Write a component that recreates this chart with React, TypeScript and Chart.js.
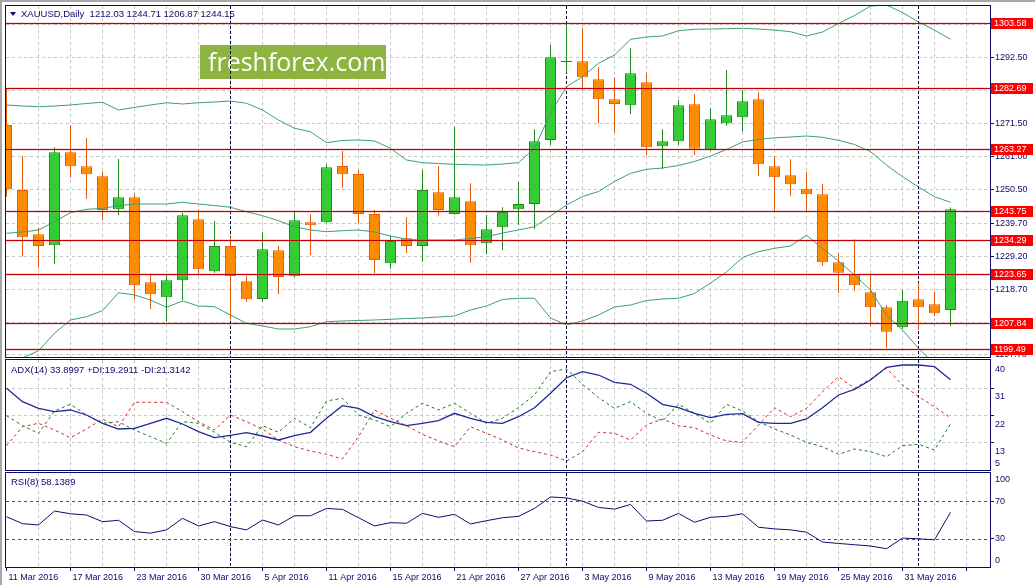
import React, { useEffect, useRef } from "react";
import { Chart, registerables } from "chart.js";

Chart.register(...registerables);

// ---------------- data ----------------
const dates = [
  "11 Mar 2016", "14 Mar 2016", "15 Mar 2016", "16 Mar 2016", "17 Mar 2016", "18 Mar 2016", "21 Mar 2016", "22 Mar 2016",
  "23 Mar 2016", "24 Mar 2016", "28 Mar 2016", "29 Mar 2016", "30 Mar 2016", "31 Mar 2016", "1 Apr 2016", "4 Apr 2016",
  "5 Apr 2016", "6 Apr 2016", "7 Apr 2016", "8 Apr 2016", "11 Apr 2016", "12 Apr 2016", "13 Apr 2016", "14 Apr 2016",
  "15 Apr 2016", "18 Apr 2016", "19 Apr 2016", "20 Apr 2016", "21 Apr 2016", "22 Apr 2016", "25 Apr 2016", "26 Apr 2016",
  "27 Apr 2016", "28 Apr 2016", "29 Apr 2016", "2 May 2016", "3 May 2016", "4 May 2016", "5 May 2016", "6 May 2016",
  "9 May 2016", "10 May 2016", "11 May 2016", "12 May 2016", "13 May 2016", "16 May 2016", "17 May 2016", "18 May 2016",
  "19 May 2016", "20 May 2016", "23 May 2016", "24 May 2016", "25 May 2016", "26 May 2016", "27 May 2016", "30 May 2016",
  "31 May 2016", "1 Jun 2016", "2 Jun 2016", "3 Jun 2016",
];

const open = [
  1271.04, 1250.31, 1236.19, 1232.68, 1262.34, 1257.87, 1254.68, 1244.16, 1247.98, 1220.88,
  1216.10, 1221.52, 1240.97, 1224.39, 1232.46, 1221.20, 1215.55, 1231.08, 1222.79, 1240.01,
  1240.01, 1257.97, 1255.41, 1242.66, 1226.94, 1234.91, 1232.46, 1249.58, 1242.66, 1246.71,
  1233.32, 1238.42, 1244.16, 1245.85, 1266.26, 1291.15, 1291.35, 1285.61, 1279.23, 1277.32,
  1284.66, 1264.25, 1265.84, 1277.64, 1263.29, 1271.58, 1273.50, 1279.23, 1257.87, 1255.00,
  1250.73, 1248.94, 1227.26, 1223.53, 1217.69, 1212.91, 1206.53, 1215.46, 1213.86, 1212.03,
];
const high = [
  1282.84, 1261.15, 1238.29, 1263.93, 1271.04, 1266.99, 1256.15, 1260.20, 1249.26, 1223.75,
  1223.30, 1243.07, 1244.16, 1240.43, 1235.42, 1222.89, 1236.82, 1232.55, 1243.30, 1242.56,
  1258.51, 1262.75, 1256.69, 1243.94, 1235.64, 1241.61, 1256.69, 1257.97, 1270.50, 1252.45,
  1242.34, 1244.80, 1252.86, 1269.67, 1296.55, 1303.57, 1301.97, 1289.44, 1286.25, 1295.50,
  1287.72, 1269.67, 1279.01, 1280.93, 1276.46, 1288.58, 1282.20, 1281.56, 1261.15, 1260.10,
  1256.05, 1252.23, 1230.13, 1234.59, 1223.75, 1213.64, 1218.42, 1220.75, 1217.79, 1244.71,
];
const low = [
  1248.18, 1229.04, 1225.54, 1226.62, 1254.24, 1247.54, 1240.65, 1242.25, 1215.46, 1212.27,
  1208.32, 1215.24, 1223.11, 1223.94, 1209.08, 1214.69, 1214.69, 1217.05, 1222.50, 1229.49,
  1239.80, 1251.05, 1239.69, 1223.75, 1225.22, 1230.13, 1227.45, 1242.12, 1242.50, 1227.13,
  1229.90, 1231.18, 1239.15, 1237.78, 1264.66, 1287.53, 1282.20, 1271.58, 1268.59, 1274.45,
  1261.38, 1256.91, 1264.66, 1261.47, 1262.85, 1270.82, 1268.90, 1254.87, 1243.71, 1248.50,
  1243.20, 1226.17, 1217.56, 1218.20, 1206.95, 1200.03, 1205.99, 1205.67, 1210.13, 1206.87,
];
const close = [
  1250.54, 1235.23, 1232.46, 1262.34, 1257.87, 1255.32, 1243.94, 1247.98, 1219.92, 1217.05,
  1221.52, 1242.25, 1225.03, 1232.46, 1222.89, 1215.46, 1231.40, 1222.57, 1240.65, 1239.06,
  1257.55, 1255.32, 1242.66, 1227.99, 1234.05, 1232.46, 1250.31, 1243.94, 1247.98, 1232.68,
  1237.78, 1243.30, 1245.85, 1265.84, 1292.63, 1291.55, 1286.25, 1279.23, 1277.74, 1287.53,
  1263.93, 1265.84, 1277.32, 1263.48, 1272.86, 1274.13, 1278.60, 1258.51, 1254.36, 1252.13,
  1248.94, 1227.26, 1223.94, 1219.92, 1212.91, 1205.13, 1215.01, 1212.91, 1210.99, 1244.15,
];

const bbUpper = [
  1277.42, 1277.10, 1276.88, 1277.10, 1277.42, 1277.90, 1278.28, 1275.82, 1276.68, 1277.42,
  1278.15, 1277.74, 1278.15, 1278.37, 1278.69, 1277.96, 1275.82, 1272.63, 1269.99, 1268.90,
  1265.40, 1266.10, 1266.26, 1265.94, 1263.61, 1259.88, 1259.02, 1258.76, 1258.51, 1258.38,
  1258.28, 1258.60, 1259.02, 1263.61, 1274.87, 1283.25, 1286.44, 1290.71, 1293.36, 1298.37,
  1299.10, 1299.42, 1301.11, 1301.56, 1301.65, 1301.75, 1301.88, 1301.65, 1301.33, 1300.79,
  1299.42, 1300.70, 1303.41, 1305.96, 1308.99, 1309.31, 1306.91, 1303.88, 1301.33, 1298.37,
];
const bbMiddle = [
  1236.51, 1236.92, 1237.56, 1240.20, 1243.07, 1244.16, 1244.48, 1245.31, 1245.85, 1245.85,
  1245.85, 1246.39, 1245.85, 1245.37, 1244.80, 1243.39, 1242.12, 1240.52, 1238.61, 1237.56,
  1237.02, 1237.34, 1237.56, 1236.92, 1235.64, 1234.59, 1234.37, 1234.37, 1234.37, 1234.85,
  1235.42, 1236.60, 1237.56, 1238.61, 1242.02, 1245.53, 1248.24, 1249.83, 1253.02, 1255.64,
  1256.91, 1257.33, 1258.13, 1259.40, 1261.15, 1263.23, 1265.62, 1266.42, 1266.96, 1267.21,
  1267.53, 1267.12, 1266.16, 1264.82, 1262.53, 1258.28, 1254.55, 1251.27, 1248.18, 1246.39,
];
const bbLower = [
  1195.59, 1196.74, 1199.07, 1204.62, 1208.86, 1209.91, 1211.82, 1217.56, 1216.83, 1215.24,
  1212.91, 1214.92, 1213.32, 1213.10, 1210.45, 1207.81, 1206.95, 1205.99, 1205.99, 1206.72,
  1208.32, 1208.54, 1208.70, 1208.86, 1209.08, 1209.34, 1209.50, 1209.82, 1210.13, 1212.05,
  1213.32, 1215.40, 1215.78, 1215.78, 1209.50, 1207.26, 1208.54, 1210.45, 1213.00, 1213.64,
  1215.08, 1215.55, 1215.78, 1217.31, 1220.66, 1224.16, 1228.79, 1230.64, 1231.72, 1232.46,
  1235.87, 1231.72, 1227.67, 1223.21, 1218.42, 1210.45, 1205.67, 1199.83, 1194.83, 1194.19,
];

const adxMain = [
  31.04, 26.62, 24.44, 23.32, 23.88, 22.23, 19.49, 17.61, 17.84, 19.49,
  21.14, 19.26, 16.72, 14.74, 15.53, 16.39, 15.30, 13.98, 15.39, 16.52,
  21.14, 25.30, 24.44, 21.67, 20.02, 18.70, 19.49, 20.35, 22.79, 21.14,
  19.82, 19.49, 21.67, 24.64, 29.39, 34.54, 36.52, 35.43, 33.02, 32.36,
  29.39, 25.76, 24.64, 22.79, 21.34, 22.46, 22.66, 19.82, 19.49, 19.49,
  20.91, 24.64, 28.83, 30.71, 33.78, 37.97, 38.73, 38.73, 38.17, 33.90,
];
const plusDI = [
  22.00, 18.70, 16.19, 23.55, 25.76, 22.23, 19.49, 20.02, 17.28, 15.07,
  12.89, 20.02, 19.49, 16.52, 13.22, 11.77, 18.70, 16.52, 21.14, 18.04,
  26.85, 27.74, 22.23, 20.58, 18.37, 22.79, 26.09, 23.88, 26.09, 22.79,
  19.49, 21.14, 24.70, 28.83, 36.52, 37.41, 32.36, 27.94, 24.44, 26.62,
  22.79, 20.25, 25.76, 22.79, 19.49, 25.76, 23.55, 20.02, 17.61, 15.63,
  13.22, 11.77, 9.26, 11.01, 10.12, 8.47, 12.10, 12.56, 10.68, 19.29,
];
const minusDI = [
  12.10, 18.37, 19.49, 17.28, 14.74, 17.61, 20.91, 18.37, 26.42, 26.42,
  26.42, 23.32, 20.02, 17.28, 22.23, 20.02, 17.61, 13.98, 11.77, 10.35,
  9.26, 7.71, 15.07, 23.88, 21.14, 18.70, 15.86, 13.65, 11.77, 18.37,
  16.19, 13.98, 11.34, 10.12, 9.03, 7.05, 10.12, 16.52, 16.19, 13.98,
  18.93, 20.91, 18.70, 18.04, 15.63, 13.65, 13.22, 18.93, 24.64, 21.67,
  24.44, 29.92, 34.87, 31.04, 34.11, 37.64, 32.13, 28.27, 24.97, 21.31,
];
const rsi = [
  53.48, 46.11, 44.74, 59.48, 56.63, 55.27, 48.21, 49.69, 37.69, 36.00,
  39.48, 51.79, 43.69, 48.21, 42.95, 39.48, 50.00, 44.74, 54.53, 54.53,
  62.32, 61.27, 52.42, 43.69, 47.16, 46.53, 57.06, 52.85, 56.00, 45.79,
  49.27, 52.42, 53.90, 62.32, 74.53, 73.48, 70.00, 63.37, 61.58, 66.53,
  48.95, 49.69, 57.06, 47.58, 52.85, 53.90, 56.63, 42.32, 40.53, 39.48,
  37.06, 26.53, 25.06, 23.69, 22.32, 19.48, 30.74, 30.00, 28.95, 58.14,
];

const levels = [1303.58, 1282.69, 1263.27, 1243.75, 1234.29, 1223.65, 1207.84, 1199.49];
const priceTicks = [1197.7, 1208.2, 1218.7, 1229.2, 1239.7, 1250.5, 1261.0, 1271.5, 1282.0, 1292.5, 1303.0];
const adxLabels = [40, 31, 22, 13, 5];
const adxGridValues = [31, 22, 13];
const rsiLabels = [100, 70, 30, 0];
const rsiLevels = [70, 30];

const titleText = "XAUUSD,Daily  1212.03 1244.71 1206.87 1244.15";
const adxText = "ADX(14) 33.8997 +DI:19.2911 -DI:21.3142";
const rsiText = "RSI(8) 58.1389";
const watermark = "freshforex.com";

// first bar of each new month -> period separators
const separators = dates
  .map((d, i) => (i > 0 && d.split(" ")[1] !== dates[i - 1].split(" ")[1] ? i : -1))
  .filter((i) => i >= 0);

// ---------------- styles ----------------
const FONT = '"Liberation Sans", Arial, sans-serif';
const NAVY = "#0b0b6b";
const GRID = "#c6c6c6";
const BULL_FILL = "#32cd32";
const BULL_EDGE = "#1f8a1f";
const BEAR_FILL = "#ff8c00";
const BEAR_EDGE = "#e8590c";
const BB = "#3a9f7a";
const X_MIN = -0.03125;
const X_MAX = 61.46875;
const PRICE_MIN = 1197.06;
const PRICE_MAX = 1308.99;
const ADX_MIN = 4.08;
const ADX_MAX = 40.38;

const isBull = (i: number) => close[i] >= open[i];
const pts = (arr: number[]) => arr.map((v, i) => ({ x: i, y: v }));

function xAxis(withLabels: boolean): any {
  return {
    type: "linear",
    min: X_MIN,
    max: X_MAX,
    offset: false,
    position: "bottom",
    afterBuildTicks: (s: any) => {
      const t: any[] = [];
      for (let i = 0; i < dates.length + 2; i += 2) t.push({ value: i });
      s.ticks = t;
    },
    afterFit: (s: any) => {
      s.height = withLabels ? 18 : 0;
      s.paddingLeft = 0;
      s.paddingRight = 0;
    },
    border: { display: false, dash: [3, 3] },
    grid: {
      offset: false,
      drawOnChartArea: true,
      drawTicks: withLabels,
      tickLength: 4,
      lineWidth: 1,
      tickBorderDash: [],
      color: (c: any) => (c.tick && c.tick.value === 0 ? "rgba(0,0,0,0)" : GRID),
      tickColor: (c: any) => (c.tick && c.tick.value % 4 === 0 ? NAVY : "rgba(0,0,0,0)"),
    },
    ticks: {
      display: withLabels,
      autoSkip: false,
      maxRotation: 0,
      minRotation: 0,
      align: "start",
      labelOffset: 2,
      padding: 1,
      color: NAVY,
      font: { family: FONT, size: 9 },
      callback: (v: any) => (v % 4 === 0 && dates[v] ? dates[v] : ""),
    },
  };
}

function sideAxis(min: number, max: number, tickValues: number[], nativeLabels: boolean, gridColor: string): any {
  return {
    type: "linear",
    position: "right",
    min,
    max,
    afterBuildTicks: (s: any) => {
      s.ticks = tickValues.map((v) => ({ value: v }));
    },
    afterFit: (s: any) => {
      s.width = 45;
      s.paddingTop = 0;
      s.paddingBottom = 0;
    },
    border: { display: false, dash: [3, 3] },
    grid: {
      drawTicks: true,
      tickLength: 4,
      lineWidth: 1,
      tickBorderDash: [],
      color: gridColor,
      tickColor: NAVY,
    },
    ticks: {
      display: nativeLabels,
      autoSkip: false,
      padding: 1,
      color: NAVY,
      font: { family: FONT, size: 9 },
      callback: (v: any) => Number(v).toFixed(2),
    },
  };
}

function drawSeparators(chart: any) {
  const { ctx, chartArea: a, scales } = chart;
  ctx.save();
  ctx.strokeStyle = "#000030";
  ctx.lineWidth = 1;
  ctx.setLineDash([3, 2]);
  for (const i of separators) {
    const px = Math.floor(scales.x.getPixelForValue(i)) + 0.5;
    ctx.beginPath();
    ctx.moveTo(px, a.top);
    ctx.lineTo(px, a.bottom);
    ctx.stroke();
  }
  ctx.restore();
}

function drawFrame(chart: any) {
  const { ctx, chartArea: a } = chart;
  ctx.save();
  ctx.strokeStyle = NAVY;
  ctx.lineWidth = 1;
  ctx.strokeRect(Math.floor(a.left) - 0.5, Math.floor(a.top) - 0.5, Math.round(a.right - a.left) + 1, Math.round(a.bottom - a.top) + 1);
  ctx.restore();
}

function drawSideLabels(chart: any, values: number[], offset: number) {
  const { ctx, chartArea: a, scales } = chart;
  ctx.save();
  ctx.font = `9px ${FONT}`;
  ctx.fillStyle = NAVY;
  ctx.textBaseline = "middle";
  ctx.textAlign = "left";
  for (const v of values) {
    let py = scales.y.getPixelForValue(v) + offset;
    py = Math.min(Math.max(py, a.top + 6.5), a.bottom - 6.5);
    ctx.fillText(String(v), a.right + 5, py);
  }
  ctx.restore();
}

const mainDeco = {
  id: "mainDeco",
  beforeDatasetsDraw(chart: any) {
    const { ctx } = chart;
    ctx.save();
    ctx.fillStyle = "#8cb43f";
    ctx.fillRect(200, 45, 186, 34);
    ctx.fillStyle = "#ffffff";
    ctx.font = '25px "Open Sans", sans-serif';
    ctx.textBaseline = "alphabetic";
    ctx.textAlign = "left";
    ctx.fillText(watermark, 208, 71);
    ctx.restore();
    drawSeparators(chart);
  },
  afterDatasetsDraw(chart: any) {
    const { ctx, chartArea: a, scales } = chart;
    ctx.save();
    ctx.beginPath();
    ctx.rect(a.left, a.top, a.right - a.left, a.bottom - a.top);
    ctx.clip();
    for (const L of levels) {
      const py = Math.round(scales.y.getPixelForValue(L)) + 0.5;
      ctx.strokeStyle = "rgba(230,90,90,0.22)";
      ctx.lineWidth = 3;
      ctx.beginPath();
      ctx.moveTo(a.left, py);
      ctx.lineTo(a.right, py);
      ctx.stroke();
      ctx.strokeStyle = "#c00000";
      ctx.lineWidth = 1;
      ctx.beginPath();
      ctx.moveTo(a.left, py);
      ctx.lineTo(a.right, py);
      ctx.stroke();
    }
    ctx.restore();
  },
  afterDraw(chart: any) {
    drawFrame(chart);
    const { ctx, chartArea: a, scales } = chart;
    ctx.save();
    ctx.font = `9px ${FONT}`;
    ctx.textBaseline = "middle";
    ctx.textAlign = "left";
    for (const L of levels) {
      const py = Math.round(scales.y.getPixelForValue(L));
      ctx.fillStyle = "#ff0000";
      ctx.fillRect(a.right + 1, py - 5, 42, 11);
      ctx.fillStyle = "#ffffff";
      ctx.fillText(L.toFixed(2), a.right + 4, py + 0.5);
    }
    ctx.restore();
  },
};

const adxDeco = {
  id: "adxDeco",
  beforeDatasetsDraw(chart: any) {
    drawSeparators(chart);
  },
  afterDraw(chart: any) {
    drawFrame(chart);
    drawSideLabels(chart, adxLabels, 8.5);
  },
};

const rsiDeco = {
  id: "rsiDeco",
  beforeDatasetsDraw(chart: any) {
    drawSeparators(chart);
    const { ctx, chartArea: a, scales } = chart;
    ctx.save();
    ctx.strokeStyle = "#c81e1e";
    ctx.lineWidth = 1;
    ctx.setLineDash([3, 3]);
    for (const L of rsiLevels) {
      const py = Math.round(scales.y.getPixelForValue(L)) + 0.5;
      ctx.beginPath();
      ctx.moveTo(a.left, py);
      ctx.lineTo(a.right, py);
      ctx.stroke();
    }
    ctx.restore();
  },
  afterDraw(chart: any) {
    drawFrame(chart);
    drawSideLabels(chart, rsiLabels, 0);
  },
};

const baseOptions = (padTop: number, padBottom: number): any => ({
  responsive: false,
  maintainAspectRatio: false,
  animation: false,
  events: [],
  devicePixelRatio: 1,
  layout: { padding: { left: 6, right: 0, top: padTop, bottom: padBottom } },
  plugins: { legend: { display: false }, tooltip: { enabled: false }, title: { display: false } },
});

const lineDs = (arr: number[], color: string, width: number, dash: number[], order: number): any => ({
  type: "line",
  data: pts(arr),
  borderColor: color,
  backgroundColor: color,
  borderWidth: width,
  borderDash: dash,
  pointRadius: 0,
  tension: 0,
  fill: false,
  order,
});

export default function App() {
  const mainRef = useRef<HTMLCanvasElement>(null);
  const adxRef = useRef<HTMLCanvasElement>(null);
  const rsiRef = useRef<HTMLCanvasElement>(null);

  useEffect(() => {
    Chart.defaults.font.family = FONT;

    const main = new Chart(mainRef.current as HTMLCanvasElement, {
      type: "bar",
      data: {
        datasets: [
          lineDs(bbUpper, BB, 1, [], 1),
          lineDs(bbMiddle, BB, 1, [], 1),
          lineDs(bbLower, BB, 1, [], 1),
          {
            type: "bar",
            data: dates.map((_, i) => ({ x: i, y: [open[i], close[i]] })),
            backgroundColor: (c: any) => (isBull(c.dataIndex) ? BULL_FILL : BEAR_FILL),
            borderColor: (c: any) => (isBull(c.dataIndex) ? BULL_EDGE : BEAR_EDGE),
            borderWidth: 1,
            borderSkipped: false,
            barThickness: 11,
            inflateAmount: 0,
            grouped: false,
            order: 2,
          } as any,
          {
            type: "bar",
            data: dates.map((_, i) => ({ x: i, y: [low[i], high[i]] })),
            backgroundColor: (c: any) => (isBull(c.dataIndex) ? BULL_EDGE : BEAR_EDGE),
            borderWidth: 0,
            barThickness: 1,
            inflateAmount: 0,
            grouped: false,
            order: 3,
          } as any,
        ],
      },
      options: {
        ...baseOptions(6, 1),
        scales: {
          x: xAxis(false),
          y: sideAxis(PRICE_MIN, PRICE_MAX, priceTicks, true, GRID),
        },
      },
      plugins: [mainDeco],
    } as any);

    const adx = new Chart(adxRef.current as HTMLCanvasElement, {
      type: "line",
      data: {
        datasets: [
          lineDs(adxMain, "#1f2a99", 1.3, [], 1),
          lineDs(plusDI, "#1e7a1e", 1, [3, 3], 2),
          lineDs(minusDI, "#d02828", 1, [3, 3], 3),
        ],
      },
      options: {
        ...baseOptions(2, 1),
        scales: {
          x: xAxis(false),
          y: sideAxis(ADX_MIN, ADX_MAX, adxGridValues, false, GRID),
        },
      },
      plugins: [adxDeco],
    } as any);

    const rsiChart = new Chart(rsiRef.current as HTMLCanvasElement, {
      type: "line",
      data: {
        datasets: [lineDs(rsi, "#0d0d70", 1, [], 1)],
      },
      options: {
        ...baseOptions(2, 0),
        scales: {
          x: xAxis(true),
          y: sideAxis(0, 100, rsiLevels, false, "rgba(0,0,0,0)"),
        },
      },
      plugins: [rsiDeco],
    } as any);

    return () => {
      main.destroy();
      adx.destroy();
      rsiChart.destroy();
    };
  }, []);

  const headerStyle: React.CSSProperties = {
    position: "absolute",
    left: 11,
    fontFamily: FONT,
    fontSize: "9.5px",
    lineHeight: "11px",
    color: NAVY,
    whiteSpace: "pre",
  };

  return (
    <div
      style={{
        position: "fixed",
        left: 0,
        top: 0,
        width: 1035,
        height: 585,
        background: "#ffffff",
        overflow: "hidden",
      }}
    >
      <canvas ref={mainRef} width={1035} height={358} style={{ position: "absolute", left: 0, top: 0, display: "block" }} />
      <canvas ref={adxRef} width={1035} height={113} style={{ position: "absolute", left: 0, top: 358, display: "block" }} />
      <canvas ref={rsiRef} width={1035} height={114} style={{ position: "absolute", left: 0, top: 471, display: "block" }} />
      <div style={{ position: "absolute", left: 0, top: 0, width: 1035, height: 2, background: "#a8a8a8" }} />
      <div style={{ position: "absolute", left: 0, top: 0, width: 2, height: 585, background: "#a8a8a8" }} />
      <div
        style={{
          position: "absolute",
          left: 10,
          top: 12,
          width: 0,
          height: 0,
          borderLeft: "3px solid transparent",
          borderRight: "3px solid transparent",
          borderTop: `4px solid ${NAVY}`,
        }}
      />
      <div style={{ ...headerStyle, left: 21, top: 8 }}>{titleText}</div>
      <div style={{ ...headerStyle, top: 363.5 }}>{adxText}</div>
      <div style={{ ...headerStyle, top: 476 }}>{rsiText}</div>
    </div>
  );
}
